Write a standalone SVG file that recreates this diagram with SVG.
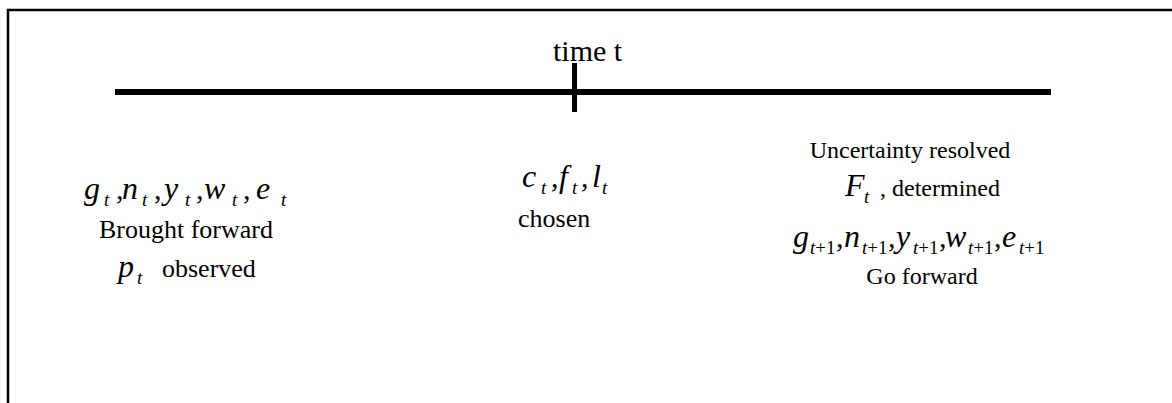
<svg xmlns="http://www.w3.org/2000/svg" width="1172" height="403" viewBox="0 0 1172 403">
<style>
text{font-family:"Liberation Serif","Times New Roman",serif;fill:#000}
.v{font-family:"Liberation Serif","Times New Roman",serif;font-style:italic;font-size:32px}
.s{font-family:"Liberation Serif","Times New Roman",serif;font-style:italic;font-size:19px}
.r{font-style:normal}
.c{font-family:"Liberation Serif","Times New Roman",serif;font-size:30px}
.w{font-family:"Liberation Serif","Times New Roman",serif;font-size:26px}
.q{font-family:"Liberation Serif","Times New Roman",serif;font-size:24px}
</style>
<rect x="0" y="0" width="1172" height="403" fill="#fff"/>
<path d="M8 403 L8 10 L1172 10" fill="none" stroke="#000" stroke-width="2.5"/>
<g id="timeline">
<line x1="115" y1="92" x2="1051" y2="92" stroke="#000" stroke-width="6"/>
<line x1="574.5" y1="63" x2="574.5" y2="112" stroke="#000" stroke-width="5"/>
<text x="553" y="61" font-size="30">time t</text>
</g>
<g id="left">
<text class="v" x="84" y="199">g</text><text class="s" x="104" y="206">t</text><text class="c" x="116" y="199">,</text>
<text class="v" x="122" y="199">n</text><text class="s" x="142" y="206">t</text><text class="c" x="154" y="199">,</text>
<text class="v" x="164" y="199">y</text><text class="s" x="185" y="206">t</text><text class="c" x="196" y="199">,</text>
<text class="v" x="204" y="199">w</text><text class="s" x="232" y="206">t</text><text class="c" x="243" y="199">,</text>
<text class="v" x="256" y="199">e</text><text class="s" x="281" y="206">t</text>
<text class="w" x="186" y="238" text-anchor="middle">Brought forward</text>
<text class="v" x="118" y="277">p</text><text class="s" x="137" y="284">t</text>
<text class="w" x="162" y="277">observed</text>
</g>
<g id="center">
<text class="v" x="522" y="187">c</text><text class="s" x="541" y="194">t</text><text class="c" x="551" y="187">,</text>
<text class="v" x="559" y="187">f</text><text class="s" x="572" y="194">t</text><text class="c" x="581" y="187">,</text>
<text class="v" x="592" y="187">l</text><text class="s" x="602" y="194">t</text>
<text class="w" x="518" y="227">chosen</text>
</g>
<g id="right">
<text class="q" x="910" y="158" text-anchor="middle">Uncertainty resolved</text>
<text class="v" x="845" y="196">F</text><text class="s" x="864" y="203">t</text>
<text class="q" x="880" y="196">, determined</text>
<text class="v" x="793" y="247">g</text><text class="s" x="810" y="254">t<tspan class="r">+1</tspan></text><text class="c" x="836" y="247">,</text>
<text class="v" x="844" y="247">n</text><text class="s" x="862" y="254">t<tspan class="r">+1</tspan></text><text class="c" x="888" y="247">,</text>
<text class="v" x="896" y="247">y</text><text class="s" x="913" y="254">t<tspan class="r">+1</tspan></text><text class="c" x="939" y="247">,</text>
<text class="v" x="945" y="247">w</text><text class="s" x="968" y="254">t<tspan class="r">+1</tspan></text><text class="c" x="994" y="247">,</text>
<text class="v" x="1002" y="247">e</text><text class="s" x="1019" y="254">t<tspan class="r">+1</tspan></text>
<text class="q" x="922" y="284" text-anchor="middle">Go forward</text>
</g>
</svg>
